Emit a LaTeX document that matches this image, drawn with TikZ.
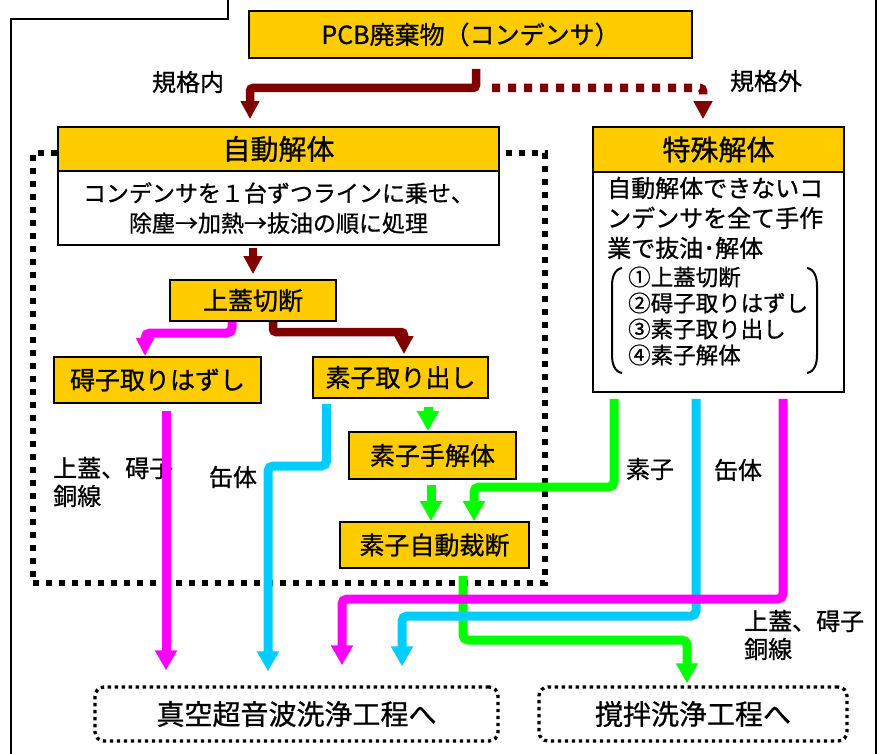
\documentclass[tikz,border=0pt]{standalone}
\usepackage{fontspec}
\setmainfont{Noto Sans CJK JP}[FakeBold=0.8]
\usetikzlibrary{arrows.meta}
\definecolor{yel}{HTML}{FFCC00}
\definecolor{dred}{HTML}{800000}
\definecolor{pnk}{HTML}{FF00FF}
\definecolor{sky}{HTML}{00CCFF}
\definecolor{grn}{HTML}{00FF00}
\begin{document}
\begin{tikzpicture}[x=1pt,y=-1pt,
  ybox/.style={draw=black,line width=1.8pt,fill=yel,inner sep=0pt,font=\fontsize{25}{30}\selectfont},
  wbox/.style={draw=black,line width=1.8pt,fill=white,inner sep=0pt},
  hdr/.style={ybox,font=\fontsize{28}{32}\selectfont},
  lab/.style={inner sep=0pt,font=\fontsize{24}{28}\selectfont,align=left},
  grpbox/.style={draw=black,line width=5.5pt,dash pattern=on 6pt off 7pt,inner sep=0pt},
  dotbox/.style={draw=black,line width=3.3pt,dash pattern=on 3.3pt off 3.7pt,rounded corners=9pt,inner sep=0pt,font=\fontsize{28}{32}\selectfont},
  dln/.style={draw=dred,line width=8.5pt,rounded corners=3pt,-{Triangle[width=18pt,length=18pt]}},
  dlndot/.style={dln,dash pattern=on 8pt off 8pt},
  gln/.style={draw=grn,line width=9pt,rounded corners=5pt,-{Triangle[width=21pt,length=20pt]}},
  bln/.style={draw=sky,line width=9pt,rounded corners=5pt,-{Triangle[width=21pt,length=20pt]}},
  pln/.style={draw=pnk,line width=9pt,rounded corners=5pt,-{Triangle[width=21pt,length=20pt]}},
  pkS/.style={draw=pnk,line width=9pt,rounded corners=5pt,-{Triangle[width=17pt,length=18pt]}},
  frame/.style={draw=black,line width=2pt}
]
\useasboundingbox (0,0) rectangle (884,754);
\fill[white] (0,0) rectangle (884,754);
% outer frame
\draw[frame] (228,0) -- (228,19) -- (11,19) -- (11,754);
\draw[frame] (876,0) -- (876,754);
% group of automatic dismantling
\node[grpbox,minimum width=512pt,minimum height=430pt] (grp) at (289,368) {};
% boxes
\node[ybox,minimum width=443pt,minimum height=47pt] (pcb) at (470.5,34.5) {PCB廃棄物（コンデンサ）};
\node[hdr,minimum width=441pt,minimum height=44pt] (jh) at (278.5,149) {自動解体};
\node[wbox,minimum width=441pt,minimum height=74pt,align=center,font=\fontsize{23}{30}\selectfont] (jb) at (278.5,208) {コンデンサを１台ずつラインに乗せ、\\除塵→加熱→抜油の順に処理};
\node[hdr,minimum width=251pt,minimum height=45pt] (th) at (718.5,149.5) {特殊解体};
\node[wbox,minimum width=251pt,minimum height=220pt] (tb) at (718.5,282) {};
\node[lab,anchor=west,font=\fontsize{24}{30}\selectfont] (tt) at (607,218) {自動解体できないコ\\ンデンサを全て手作\\業で抜油･解体};
\node[lab,anchor=west,font=\fontsize{22.5}{26}\selectfont] (tl) at (628,316) {①上蓋切断\\②碍子取りはずし\\③素子取り出し\\④素子解体};
\draw[line width=2pt] (622,268) to[out=190,in=90] (612,286) -- (612,355) to[out=-90,in=170] (622,373);
\draw[line width=2pt] (807,268) to[out=-10,in=90] (817,286) -- (817,355) to[out=-90,in=10] (807,373);
\node[ybox,minimum width=166pt,minimum height=41pt] (uw) at (253,300.5) {上蓋切断};
\node[ybox,minimum width=207pt,minimum height=46pt] (ga) at (157.5,380) {碍子取りはずし};
\node[ybox,minimum width=175pt,minimum height=41pt] (st) at (400.5,377.5) {素子取り出し};
\node[ybox,minimum width=167pt,minimum height=47pt] (sh) at (432.5,455.5) {素子手解体};
\node[ybox,minimum width=189pt,minimum height=46pt] (sj) at (434.5,545) {素子自動裁断};
\node[dotbox,minimum width=403pt,minimum height=54pt] (v1) at (296.5,714) {真空超音波洗浄工程へ};
\node[dotbox,minimum width=308pt,minimum height=54pt] (v2) at (693,714) {撹拌洗浄工程へ};
% labels
\node[lab] (l1) at (188,82) {規格内};
\node[lab] (l2) at (766,81) {規格外};
\node[lab,anchor=west] (l3) at (53,482) {上蓋、碍子\\銅線};
\node[lab] (l4) at (233,477) {缶体};
\node[lab] (l5) at (650,469) {素子};
\node[lab] (l6) at (738,470) {缶体};
\node[lab,anchor=west] (l7) at (744,635) {上蓋、碍子\\銅線};
% coordinates
\coordinate (k1) at (476,88);
\coordinate (k2) at (250,88);
\coordinate (k1b) at (492,88);
\coordinate (k3) at (703,88);
\coordinate (p1) at (232,333);
\coordinate (p2) at (145,333);
\coordinate (d1) at (273,332);
\coordinate (d2) at (404,332);
\coordinate (g1) at (428,406);
\coordinate (g2) at (431,484);
\coordinate (g3) at (614,487);
\coordinate (g4) at (474,487);
\coordinate (g5) at (463,640);
\coordinate (g6) at (687,640);
\coordinate (b1) at (326.5,466);
\coordinate (b2) at (268,466);
\coordinate (b3) at (696,616);
\coordinate (b4) at (402,616);
\coordinate (p3) at (166,420);
\coordinate (p4) at (783,599);
\coordinate (p5) at (342,599);
% green connectors
\draw[gln,shorten <=8pt] (st.south -| g1) -- (sh.north -| g1);
\draw[gln,shorten <=5pt] (sh.south -| g2) -- (sj.north -| g2);
\draw[gln,shorten <=6pt] (tb.south -| g3) -- (g3) -- (g4) -- (sj.north -| g4);
\draw[gln,shorten <=7pt,shorten >=2pt] (sj.south -| g5) -- (g5) -- (g6) -- (v2.north -| g6);
% blue connectors
\draw[bln,shorten <=5pt,shorten >=14pt] (st.south -| b1) -- (b1) -- (b2) -- (v1.north -| b2);
\draw[bln,shorten <=6pt,shorten >=19pt] (tb.south -| b3) -- (b3) -- (b4) -- (v1.north -| b4);
% pink connectors
\draw[pkS] (uw.south -| p1) -- (p1) -- (p2) -- (ga.north -| p2);
\draw[pln,shorten <=7pt,shorten >=15pt] (ga.south -| p3) -- (v1.north -| p3);
\draw[pln,shorten <=6pt,shorten >=20pt] (tb.south -| p4) -- (p4) -- (p5) -- (v1.north -| p5);
% dark red connectors
\draw[dln,shorten <=10pt,shorten >=7pt] (pcb.south -| k1) -- (k1) -- (k2) -- (jh.north -| k2);
\draw[dlndot,shorten >=7pt] (k1b) -- (k3) -- (th.north -| k3);
\draw[dln,shorten <=2pt,shorten >=5pt] (jb.south -| uw.north) -- (uw.north);
\draw[dln,shorten >=2pt] (uw.south -| d1) -- (d1) -- (d2) -- (st.north -| d2);
\end{tikzpicture}
\end{document}
